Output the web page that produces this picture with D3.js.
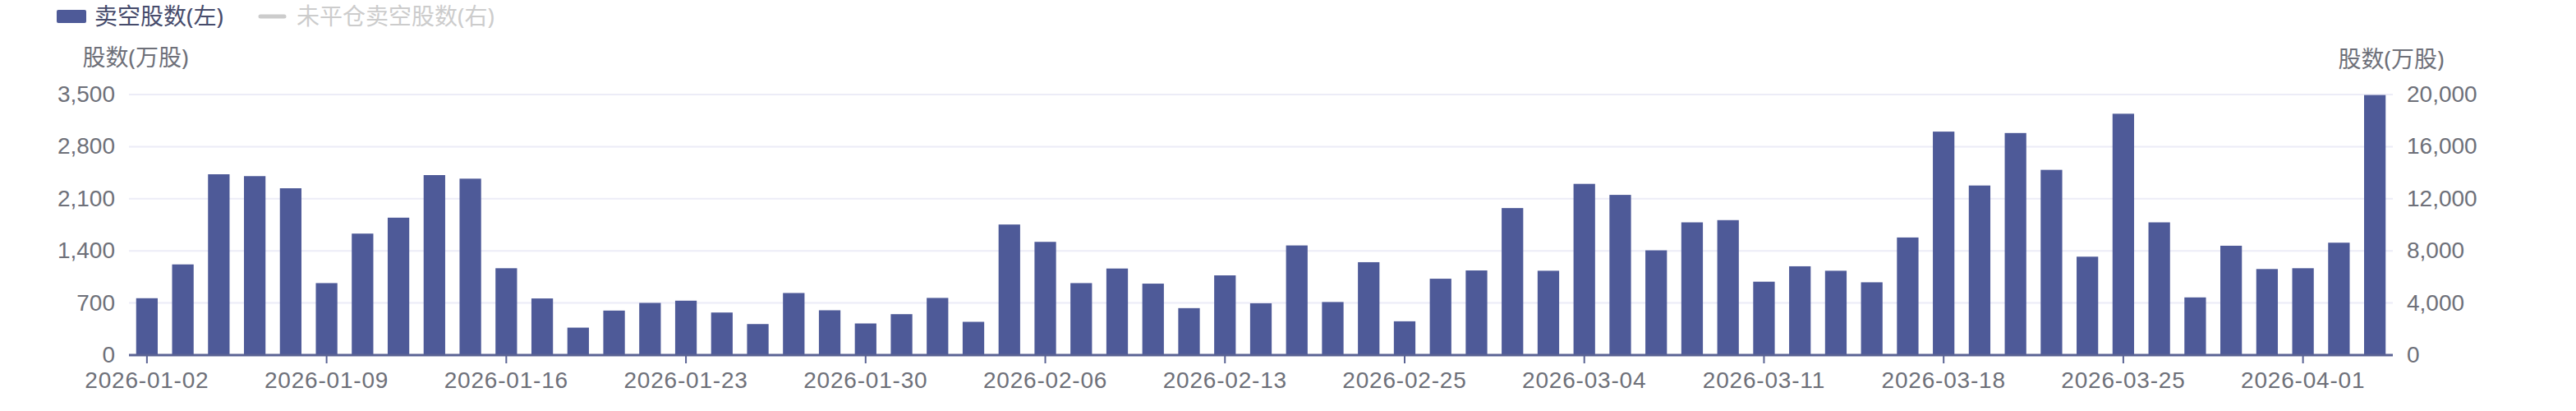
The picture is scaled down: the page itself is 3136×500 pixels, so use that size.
<!DOCTYPE html>
<html>
<head>
<meta charset="utf-8">
<script src="https://cdn.jsdelivr.net/npm/d3@7"></script>
<style>
  body { margin: 0; background: #fff; }
  svg text { font-family: "Noto Sans", "Noto Sans CJK SC", sans-serif; }
  svg .tick text { font-family: "Liberation Sans", "Noto Sans", sans-serif; }
</style>
</head>
<body>
<div id="chart"></div>
<script>
// trading days (category axis)
const dates = [
  "2026-01-02","2026-01-05","2026-01-06","2026-01-07","2026-01-08","2026-01-09",
  "2026-01-12","2026-01-13","2026-01-14","2026-01-15","2026-01-16",
  "2026-01-19","2026-01-20","2026-01-21","2026-01-22","2026-01-23",
  "2026-01-26","2026-01-27","2026-01-28","2026-01-29","2026-01-30",
  "2026-02-02","2026-02-03","2026-02-04","2026-02-05","2026-02-06",
  "2026-02-09","2026-02-10","2026-02-11","2026-02-12","2026-02-13",
  "2026-02-16","2026-02-20","2026-02-23","2026-02-24","2026-02-25",
  "2026-02-26","2026-02-27","2026-03-02","2026-03-03","2026-03-04",
  "2026-03-05","2026-03-06","2026-03-09","2026-03-10","2026-03-11",
  "2026-03-12","2026-03-13","2026-03-16","2026-03-17","2026-03-18",
  "2026-03-19","2026-03-20","2026-03-23","2026-03-24","2026-03-25",
  "2026-03-26","2026-03-27","2026-03-30","2026-03-31","2026-04-01",
  "2026-04-02","2026-04-07"
];

// 卖空股数 (万股), left axis
const shortShares = [
  764, 1218, 2429, 2404, 2241, 967, 1632, 1846, 2418, 2370,
  1167, 761, 369, 598, 701, 731, 572, 417, 834, 602,
  425, 550, 768, 447, 1754, 1521, 967, 1163, 960, 631,
  1071, 696, 1473, 713, 1248, 454, 1026, 1137, 1975, 1133,
  2300, 2152, 1407, 1783, 1813, 986, 1193, 1133, 978, 1580,
  3002, 2278, 2983, 2488, 1322, 3242, 1783, 775, 1469, 1156,
  1167, 1510, 3493
];

const leftTicks = [0, 700, 1400, 2100, 2800, 3500];
const rightTicks = [0, 4000, 8000, 12000, 16000, 20000];
const legendNames = ["卖空股数(左)", "未平仓卖空股数(右)"];
const axisName = "股数(万股)";

const W = 3136, H = 500;
const margin = {top: 115, right: 223, bottom: 68, left: 157};
const width = W - margin.left - margin.right;
const height = H - margin.top - margin.bottom;

const barColor = "#4e5a98";
const textColor = "#6e7079";
const axisColor = "#5a6394";
const gridColor = "#ececf7";

const svg = d3.select("#chart").append("svg")
    .attr("width", W)
    .attr("height", H)
    .style("display", "block");

svg.append("rect").attr("width", W).attr("height", H).attr("fill", "#fff");

const g = svg.append("g")
    .attr("transform", `translate(${margin.left},${margin.top})`);

const x = d3.scaleBand()
    .domain(dates)
    .range([0, width])
    .paddingInner(0.4)
    .paddingOuter(0.2);

const yL = d3.scaleLinear().domain([0, 3500]).range([height, 0]);
const yR = d3.scaleLinear().domain([0, 20000]).range([height, 0]);

// gridlines
g.append("g")
    .selectAll("line")
    .data(leftTicks.slice(1))
    .enter().append("line")
    .attr("x1", 0)
    .attr("x2", width)
    .attr("y1", d => yL(d))
    .attr("y2", d => yL(d))
    .attr("stroke", gridColor)
    .attr("stroke-width", 2);

// bars
g.append("g")
    .selectAll("rect")
    .data(shortShares)
    .enter().append("rect")
    .attr("x", (d, i) => x(dates[i]))
    .attr("y", d => yL(d))
    .attr("width", x.bandwidth())
    .attr("height", d => height - yL(d))
    .attr("fill", barColor);

// left axis
const leftAxis = g.append("g")
    .call(d3.axisLeft(yL).tickValues(leftTicks).tickFormat(d3.format(",")).tickSize(0).tickPadding(17));
leftAxis.select(".domain").remove();
leftAxis.selectAll("text")
    .attr("dy", "0.3em")
    .attr("font-size", 28)
    .attr("fill", textColor);

// right axis
const rightAxis = g.append("g")
    .attr("transform", `translate(${width},0)`)
    .call(d3.axisRight(yR).tickValues(rightTicks).tickFormat(d3.format(",")).tickSize(0).tickPadding(17));
rightAxis.select(".domain").remove();
rightAxis.selectAll("text")
    .attr("dy", "0.3em")
    .attr("font-size", 28)
    .attr("fill", textColor);

// bottom axis, a label every 5 trading days
const bottomAxis = g.append("g")
    .attr("transform", `translate(0,${height})`)
    .call(d3.axisBottom(x).tickValues(dates.filter((d, i) => i % 5 === 0)).tickSize(10).tickPadding(10));
bottomAxis.select(".domain")
    .attr("d", `M0,0H${width}`)
    .attr("stroke", axisColor)
    .attr("stroke-width", 3);
bottomAxis.selectAll(".tick line")
    .attr("stroke", axisColor)
    .attr("stroke-width", 2);
bottomAxis.selectAll("text")
    .attr("font-size", 28)
    .attr("letter-spacing", 0.8)
    .attr("fill", textColor);

// axis names
svg.append("text")
    .attr("x", 165)
    .attr("y", 70)
    .attr("dy", "0.35em")
    .attr("text-anchor", "middle")
    .attr("font-size", 28)
    .attr("fill", textColor)
    .text(axisName);
svg.append("text")
    .attr("x", 2911)
    .attr("y", 72)
    .attr("dy", "0.35em")
    .attr("text-anchor", "middle")
    .attr("font-size", 28)
    .attr("fill", textColor)
    .text(axisName);

// legend
const legend = svg.append("g");
legend.append("rect")
    .attr("x", 69).attr("y", 12)
    .attr("width", 36).attr("height", 16)
    .attr("rx", 2)
    .attr("fill", barColor);
legend.append("text")
    .attr("x", 115).attr("y", 20)
    .attr("dy", "0.35em")
    .attr("font-size", 28)
    .attr("fill", "#464b6b")
    .text(legendNames[0]);
legend.append("line")
    .attr("x1", 317).attr("x2", 346)
    .attr("y1", 20).attr("y2", 20)
    .attr("stroke", "#cccccc")
    .attr("stroke-width", 5)
    .attr("stroke-linecap", "round");
legend.append("text")
    .attr("x", 361).attr("y", 20)
    .attr("dy", "0.35em")
    .attr("font-size", 28)
    .attr("fill", "#cccccc")
    .text(legendNames[1]);
</script>
</body>
</html>
